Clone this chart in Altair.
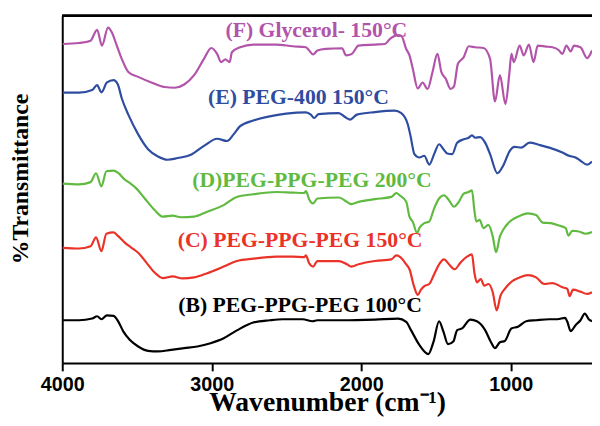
import altair as alt
import pandas as pd

# Wavenumber (cm-1) and offset transmittance (a.u.)
F_wn = [3998,3888,3811,3767,3734,3694,3668,3635,3602,3558,3492,3404,3316,3250,3184,3118,3052,3003,2964,2937,
        2909,2880,2865,2810,2722,2568,2458,2370,2348,2322,2293,2238,2128,2101,2062,2018,1908,1842,1809,1754,
        1732,1699,1677,1655,1622,1589,1556,1523,1490,1464,1435,1402,1380,1353,1314,1281,1237,1182,1138,1105,
        1072,1035,1010,995,979,940,913,878,847,819,764,720,676,654,627,599,577,533,489,456]
F_t = [323.3,324.3,326.7,337.7,321.7,340,335,321.7,308.3,295,290,284.3,279.7,279,282.3,291.7,308.3,319.3,313.3,305,
       307.7,305,315,320,322.7,322.7,321,320,316.7,312.7,316.7,318.3,319,311.7,313.3,321.7,322.7,323.3,328.3,332.3,
       331.7,318.3,311.7,298.3,278.3,284.3,277.7,295,313.3,295,288.3,277.7,280,303.3,310,321,320,319.3,308.3,265,
       291.7,262.3,291.7,313.3,305,321.7,311.7,322.7,305,321.7,320.7,320,316.7,313.3,321.7,315.7,321.7,320,309,316.7]

E_wn = [3998,3888,3800,3767,3738,3701,3657,3628,3602,3558,3492,3426,3360,3294,3228,3140,3052,2964,2898,2854,
        2810,2722,2612,2502,2370,2337,2315,2286,2150,2106,2073,2029,1908,1776,1732,1688,1670,1644,1611,1578,
        1545,1512,1479,1450,1424,1391,1358,1314,1281,1259,1237,1204,1171,1138,1089,1050,1006,973,929,874,
        808,742,654,610,566,533,489,456]
E_t = [274,274,276.7,281.7,274.3,284.3,286.7,282.3,268.3,251.7,231.7,216.7,209.3,206,207.7,211,220,227.3,225,231.7,
       240,245.7,250,252.7,254,251.7,248.3,252.3,253.3,249,246.7,251.7,254.3,255.7,253.3,241.7,230,211.7,208.3,210,
       201,211.7,221.7,216.7,212.3,211.7,223.3,226.7,228.3,230.7,228.3,229,223.3,211.7,192.3,200,215,219,218.3,223.3,
       221,218.3,213.3,210,208.3,205,201,204.3]

D_wn = [3998,3888,3811,3774,3738,3705,3657,3624,3580,3547,3503,3448,3382,3327,3261,3206,3118,3030,2920,2832,
        2722,2568,2458,2381,2370,2348,2322,2293,2150,2095,2066,2018,1908,1798,1765,1743,1699,1677,1655,1626,
        1611,1578,1545,1512,1479,1446,1413,1380,1347,1314,1281,1259,1243,1230,1208,1182,1149,1120,1098,1072,
        1050,1006,951,885,830,786,731,676,632,614,588,544,500,456]
D_t = [181.7,181,183.3,192.3,179,194.3,195,192.3,185.7,182.3,176.7,166.7,155,148.3,149.3,147.7,148.3,153.3,160,168.3,
       171,173.3,172.7,172.3,174.3,165.7,161.7,166.7,167.7,163.3,161,163.3,166,168.3,172.3,170,163.3,148.3,143,131.7,
       136.7,141.7,143.3,156.7,166.7,170,165,158.3,163.3,171.7,173.3,175,155,143.3,145,136.7,140,128.3,112.3,128.3,
       135,143.3,148.3,151.7,150,142.3,141.7,139.3,136.7,129,134,133.3,131,132.7]

C_wn = [3998,3888,3811,3774,3738,3705,3657,3624,3580,3536,3492,3437,3382,3327,3261,3195,3118,3030,2920,2832,
        2722,2568,2458,2381,2370,2348,2322,2293,2150,2095,2066,2018,1908,1798,1765,1743,1699,1677,1648,1622,
        1600,1573,1545,1512,1479,1446,1413,1375,1336,1292,1259,1243,1226,1200,1177,1149,1120,1094,1068,1039,
        995,940,885,830,775,720,654,621,606,583,533,489,456]
C_t = [116.7,116,118.3,127.3,113.3,131,132.3,128.3,121.7,116.7,111.7,101.7,91.7,86,87.7,85.7,86.7,91,97.7,103.3,
       105.7,107.7,107.7,107.3,109,101,97.7,103.3,103.3,100,97.7,100,103.3,105,109,107.7,100,95,78.3,69,
       74.3,78.3,80,90,100,105,100,95,101.7,107.7,110,91.7,81.7,85,78.3,80,71.7,53.3,68.3,75,
       82.3,86.7,89,86.7,80,81,76.7,75,67.7,74.3,72.3,70,71.7]

B_wn = [3998,3888,3800,3767,3738,3701,3657,3624,3591,3547,3492,3426,3360,3272,3184,3096,3008,2920,2832,2722,
        2612,2524,2392,2326,2293,2128,1908,1754,1699,1666,1611,1551,1516,1479,1450,1419,1384,1358,1325,1270,
        1226,1171,1134,1105,1072,1039,995,951,896,830,742,687,636,621,599,566,533,504,478,456]
B_t = [43.3,43.3,45,47.3,44.3,48.3,47.7,41.7,31.7,23.3,16.7,12.3,11.7,13.3,15,16.7,20,25,33,41,
       43.3,44.3,44.3,42.3,43.3,43.3,44,45,41.7,33,18.3,9,21.7,42.3,31.7,19,21.7,33.3,35,44,
       42.3,33.3,21.7,15,21,22.3,35,36.7,42.3,43.3,44.3,44.3,45.7,41.7,32.3,38.3,43.3,50,44.3,42.3]

series_names = ["F", "E", "D", "C", "B"]
series_colors = ["#B254AA", "#2E4CA0", "#60BA40", "#EA3228", "#000000"]
label_texts = ["(F) Glycerol- 150°C", "(E) PEG-400 150°C", "(D)PEG-PPG-PEG 200°C",
               "(C) PEG-PPG-PEG 150°C", "(B) PEG-PPG-PEG 100°C"]
label_wn = [2300, 2420, 2330, 2409, 2409]
label_t = [337, 269, 185, 125, 59]
x_ticks = [4000, 3000, 2000, 1000]

rows = []
for name, wn, t in zip(series_names, [F_wn, E_wn, D_wn, C_wn, B_wn], [F_t, E_t, D_t, C_t, B_t]):
    for a, b in zip(wn, t):
        rows.append({"series": name, "wn": a, "t": b})
df = pd.DataFrame(rows)
labels = pd.DataFrame({"series": series_names, "text": label_texts, "wn": label_wn, "t": label_t})

x_scale = alt.Scale(domain=[4000, 456], nice=False, zero=False)
y_scale = alt.Scale(domain=[0, 352], nice=False, zero=False)
color_scale = alt.Scale(domain=series_names, range=series_colors)

lines = alt.Chart(df).mark_line(strokeWidth=2.2, interpolate="monotone", clip=True).encode(
    x=alt.X("wn:Q", scale=x_scale, axis=alt.Axis(
        values=x_ticks, format="d", title="Wavenumber (cm⁻¹)", grid=False,
        labelFlush=False, labelOverlap=False,
        labelFont="Liberation Sans", labelFontWeight="bold", labelFontSize=20, labelColor="black",
        labelPadding=4, tickSize=8, tickWidth=2, tickColor="black", domainWidth=2, domainColor="black",
        titleFont="Liberation Serif", titleFontWeight="bold", titleFontSize=28, titleColor="black",
        titleBaseline="alphabetic", titleY=48)),
    y=alt.Y("t:Q", scale=y_scale, axis=alt.Axis(
        title="%Transmittance", labels=False, ticks=False, grid=False, domainWidth=2, domainColor="black",
        titleFont="Liberation Serif", titleFontWeight="bold", titleFontSize=24, titleColor="black",
        titleAngle=270, titleX=-42, titleY=165, titleAlign="center", titleBaseline="middle")),
    color=alt.Color("series:N", scale=color_scale, legend=None),
)

texts = alt.Chart(labels).mark_text(font="Liberation Serif", fontWeight="bold", fontSize=22,
                                    align="center", baseline="middle").encode(
    x=alt.X("wn:Q", scale=x_scale),
    y=alt.Y("t:Q", scale=y_scale),
    text="text:N",
    color=alt.Color("series:N", scale=color_scale, legend=None),
)

top = alt.Chart(labels).mark_rule(color="black", strokeWidth=2).encode(
    x=alt.value(0), x2=alt.value(537), y=alt.value(0))

chart = alt.layer(lines, texts, top).properties(
    width=537, height=352,
    autosize=alt.AutoSizeParams(type="none"),
    padding={"left": 55, "top": 5, "right": 0, "bottom": 53},
    background="white",
).configure_view(stroke=None)

chart.save("out.html", embed_options={"renderer": "svg", "actions": False})
